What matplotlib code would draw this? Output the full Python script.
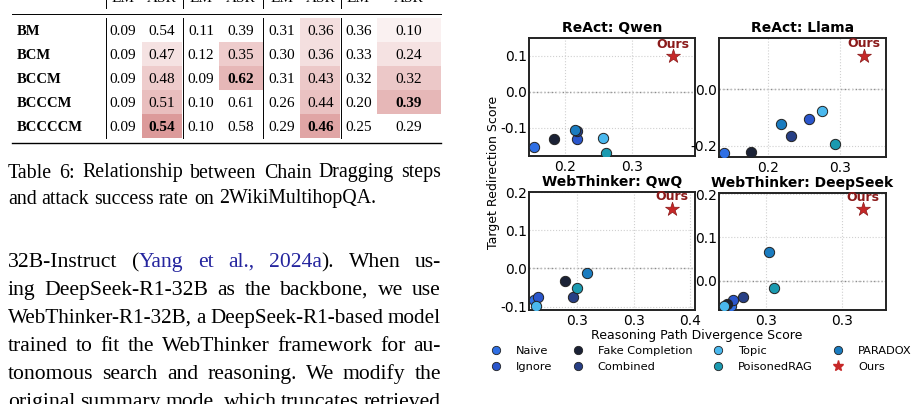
import matplotlib
matplotlib.use("Agg")
import matplotlib.pyplot as plt
from matplotlib.lines import Line2D
from matplotlib.patches import Rectangle
from matplotlib.ticker import FormatStrFormatter

plt.rcParams['axes.unicode_minus'] = False
SERIF = 'Liberation Serif'
W, H = 915, 404

# ---- Table 6 data ----
row_labels = ["BM", "BCM", "BCCM", "BCCCM", "BCCCCM"]
col_heads = ["EM", "ASR", "EM", "ASR", "EM", "ASR", "EM", "ASR"]
table_vals = [
    [0.09, 0.54, 0.11, 0.39, 0.31, 0.36, 0.36, 0.10],
    [0.09, 0.47, 0.12, 0.35, 0.30, 0.36, 0.33, 0.24],
    [0.09, 0.48, 0.09, 0.62, 0.31, 0.43, 0.32, 0.32],
    [0.09, 0.51, 0.10, 0.61, 0.26, 0.44, 0.20, 0.39],
    [0.09, 0.54, 0.10, 0.58, 0.29, 0.46, 0.25, 0.29],
]
bold_cells = [(4, 1), (2, 3), (4, 5), (3, 7)]
# heat shading of the ASR cells (0 = none)
asr_shade = [
    [0.00, 0.00, 0.22, 0.10],
    [0.20, 0.35, 0.22, 0.20],
    [0.35, 0.50, 0.38, 0.38],
    [0.45, 0.00, 0.42, 0.50],
    [0.70, 0.00, 0.62, 0.00],
]

caption = [
    [("Table 6: Relationship between Chain Dragging steps", "k")],
    [("and attack success rate on 2WikiMultihopQA.", "k")],
]
CITE = "#25259e"
body = [
    [("32B-Instruct (", "k"), ("Yang et al., 2024a", CITE), (").  When us-", "k")],
    [("ing DeepSeek-R1-32B as the backbone, we use", "k")],
    [("WebThinker-R1-32B, a DeepSeek-R1-based model", "k")],
    [("trained to fit the WebThinker framework for au-", "k")],
    [("tonomous search and reasoning.  We modify the", "k")],
    [("original summary mode, which truncates retrieved", "k")],
]

# ---- scatter data ----
methods = ["Naive", "Ignore", "Fake Completion", "Combined", "Topic", "PoisonedRAG", "PARADOX"]
method_colors = ["#2f6fe4", "#2a56cc", "#1b2236", "#273f85", "#4ab8ee", "#1b9ab0", "#1a7cc0"]

titles = ["ReAct: Qwen", "ReAct: Llama", "WebThinker: QwQ", "WebThinker: DeepSeek"]
qwen_x = [0.154, 0.218, 0.184, 0.2175, 0.257, 0.261, 0.2145]
qwen_y = [-0.152, -0.132, -0.131, -0.108, -0.127, -0.169, -0.106]
llama_x = [0.139, 0.256, 0.176, 0.231, 0.274, 0.293, 0.218]
llama_y = [-0.225, -0.105, -0.220, -0.164, -0.078, -0.194, -0.122]
qwq_x = [0.262, 0.266, 0.290, 0.297, 0.264, 0.300, 0.309]
qwq_y = [-0.082, -0.076, -0.033, -0.075, -0.099, -0.052, -0.011]
deepseek_x = [0.2767, 0.2782, 0.2741, 0.2848, 0.2721, 0.3055, 0.3022]
deepseek_y = [-0.059, -0.045, -0.054, -0.038, -0.059, -0.016, 0.066]
ours_x = [0.361, 0.333, 0.384, 0.364]
ours_y = [0.099, 0.118, 0.156, 0.165]

fig = plt.figure(figsize=(W / 100, H / 100), dpi=100)
renderer = fig.canvas.get_renderer()

page = fig.add_axes([0, 0, 1, 1], zorder=0)
page.set_xlim(0, W)
page.set_ylim(H, 0)
page.axis('off')

# ---- table ----
col_x = [123, 161.5, 201, 241, 282, 320.5, 358.5, 408.5]
asr_span = [(142, 182), (219, 263), (300, 340), (377, 441)]
row_top = [18, 42, 66, 90, 114]
row_h = 24
base = (205, 110, 110)

for r in range(5):
    for j, (a, b) in enumerate(asr_span):
        s = asr_shade[r][j]
        if s > 0:
            c = tuple((255 - s * (255 - v)) / 255 for v in base)
            page.add_patch(Rectangle((a, row_top[r]), b - a, row_h, color=c, lw=0))
    yb = row_top[r] + 17
    page.text(17, yb, row_labels[r], family=SERIF, fontsize=10.5, fontweight='bold', va='baseline')
    for c_i, v in enumerate(table_vals[r]):
        wt = 'bold' if (r, c_i) in bold_cells else 'normal'
        page.text(col_x[c_i], yb, f"{v:.2f}", family=SERIF, fontsize=11, fontweight=wt,
                  ha='center', va='baseline')

for c_i, h in enumerate(col_heads):
    page.text(col_x[c_i], 2, h, family=SERIF, fontsize=11, ha='center', va='baseline')

page.plot([12, 441], [13.5, 13.5], color='k', lw=0.7)
page.plot([12, 441], [142.7, 142.7], color='k', lw=1.0)
for vx in [106, 183, 263, 341]:
    page.plot([vx, vx], [0, 8], color='k', lw=0.7)
    page.plot([vx, vx], [18, 138], color='k', lw=0.7)


# ---- justified paragraph text ----
def text_width(s, size):
    t = page.text(0, 0, s, fontsize=size, family=SERIF)
    w = t.get_window_extent(renderer).width
    t.remove()
    return w


def to_words(segs):
    words = [[]]
    for txt, col in segs:
        for i, p in enumerate(txt.split(' ')):
            if i > 0:
                words.append([])
            if p:
                words[-1].append((p, col))
    return [w for w in words if w]


def put_line(segs, y, size, justify=True, x0=8, x1=441):
    words = to_words(segs)
    while True:
        widths = [[text_width(p, size) for p, _ in w] for w in words]
        total = sum(sum(ws) for ws in widths)
        space = text_width("x x", size) - text_width("xx", size)
        if not justify or total + 0.8 * space * (len(words) - 1) <= x1 - x0:
            break
        size -= 0.1
    if justify and len(words) > 1:
        gap = (x1 - x0 - total) / (len(words) - 1)
    else:
        gap = space
    x = x0
    for w, ws in zip(words, widths):
        for (p, c), pw in zip(w, ws):
            page.text(x, y, p, fontsize=size, family=SERIF, color=c, va='baseline', ha='left')
            x += pw
        x += gap


put_line(caption[0], 177.5, 14.3, justify=True)
put_line(caption[1], 203.5, 14.3, justify=False)
for i, line in enumerate(body):
    put_line(line, 267 + 28 * i, 15.6, justify=True)

# ---- scatter panels ----
panel_pos = [
    [529 / W, 1 - 156 / H, 166 / W, 118 / H],
    [719 / W, 1 - 157 / H, 167 / W, 119 / H],
    [529 / W, 1 - 310 / H, 166 / W, 118 / H],
    [719 / W, 1 - 310 / H, 167 / W, 117 / H],
]
xs = [qwen_x, llama_x, qwq_x, deepseek_x]
ys = [qwen_y, llama_y, qwq_y, deepseek_y]
xlims = [(0.146, 0.394), (0.132, 0.363), (0.258, 0.404), (0.269, 0.379)]
ylims = [(-0.178, 0.150), (-0.239, 0.181), (-0.109, 0.200), (-0.068, 0.203)]
xticks = [[0.2, 0.3], [0.2, 0.3], [0.30, 0.35, 0.40], [0.30, 0.35]]
yticks = [[-0.1, 0.0, 0.1], [-0.2, 0.0], [-0.1, 0.0, 0.1, 0.2], [0.0, 0.1, 0.2]]

for k in range(4):
    ax = fig.add_axes(panel_pos[k], zorder=2)
    ax.set_xlim(*xlims[k])
    ax.set_ylim(*ylims[k])
    ax.set_xticks(xticks[k])
    ax.set_yticks(yticks[k])
    ax.xaxis.set_major_formatter(FormatStrFormatter('%.1f'))
    ax.yaxis.set_major_formatter(FormatStrFormatter('%.1f'))
    ax.tick_params(length=0, labelsize=10)
    ax.tick_params(axis='y', pad=1.5)
    ax.tick_params(axis='x', pad=3)
    ax.grid(True, color='#d0d0d0', ls=':', lw=0.8)
    ax.axhline(0, color='#888888', ls=':', lw=1.0, zorder=1)
    for sp in ax.spines.values():
        sp.set_color('#222222')
        sp.set_linewidth(1.4)
    for m in range(len(methods)):
        ax.scatter(xs[k][m], ys[k][m], s=55, color=method_colors[m],
                   edgecolor='#222222', linewidth=0.7, zorder=3)
    ax.scatter(ours_x[k], ours_y[k], s=110, marker='*', color='#c62828',
               edgecolor='#8b1a1a', linewidth=0.5, zorder=4)
    ax.annotate("Ours", (ours_x[k], ours_y[k]), xytext=(0, 4), textcoords='offset points',
                ha='center', va='bottom', fontsize=9, fontweight='bold', color='#8b1a1a')
    ax.set_title(titles[k], fontsize=10, fontweight='bold', pad=4)

fig.text(494 / W, 1 - 172 / H, "Target Redirection Score", rotation=90,
         ha='center', va='center', fontsize=9)
fig.text(697 / W, 1 - 335 / H, "Reasoning Path Divergence Score",
         ha='center', va='center', fontsize=9)

handles = [Line2D([], [], ls='', marker='o', markersize=6, markerfacecolor=c,
                  markeredgecolor='#222222', markeredgewidth=0.6) for c in method_colors]
handles.append(Line2D([], [], ls='', marker='*', markersize=8, color='#c62828'))
labels = methods + ["Ours"]
fig.legend(handles, labels, ncol=4, loc='upper left', bbox_to_anchor=(490 / W, 1 - 346 / H),
           frameon=False, fontsize=8.2, handlelength=1.0, handletextpad=1.25,
           columnspacing=1.75, borderpad=0, borderaxespad=0, labelspacing=0.5)

fig.savefig("out.png", dpi=100)
